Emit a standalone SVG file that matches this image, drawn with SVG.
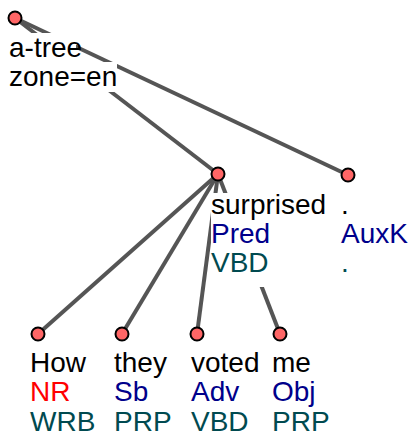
<svg xmlns="http://www.w3.org/2000/svg" width="414" height="444" viewBox="0 0 414 444">
<style>
text{font-family:"Liberation Sans",Arial,sans-serif;font-size:28px}
.f{fill:#000}
.r{fill:#ff0000}
.b{fill:#00008b}
.t{fill:#004a50}
.bg{fill:#fff}
.e{stroke:#555;stroke-width:4;fill:none;stroke-linecap:butt}
.n{fill:#ff6666;stroke:#000;stroke-width:2}
</style>
<rect width="414" height="444" fill="#fff"/>
<g id="edges">
<line class="e" x1="15" y1="18" x2="218" y2="174"/>
<line class="e" x1="15" y1="18" x2="348" y2="175"/>
<line class="e" x1="218" y1="174" x2="38" y2="334"/>
<line class="e" x1="218" y1="174" x2="122" y2="334"/>
<line class="e" x1="218" y1="174" x2="197" y2="334"/>
<line class="e" x1="218" y1="174" x2="280" y2="334"/>
</g>
<g id="root">
<rect class="bg" x="8" y="33" width="68" height="29"/>
<rect class="bg" x="8" y="62" width="109" height="30"/>
<circle class="n" cx="15" cy="18" r="6.5"/>
<text x="9" y="57" class="f">a-tree</text>
<text x="9" y="86" class="f">zone=en</text>
</g>
<g id="n-surprised">
<rect class="bg" x="211" y="193" width="120" height="94"/>
<circle class="n" cx="218" cy="174" r="6.5"/>
<text x="211" y="214" class="f">surprised</text>
<text x="211" y="243" class="b">Pred</text>
<text x="211" y="272" class="t">VBD</text>
</g>
<g id="n-period">
<circle class="n" cx="348" cy="175" r="6.5"/>
<text x="341" y="214" class="f">.</text>
<text x="341" y="243" class="b">AuxK</text>
<text x="341" y="272" class="t">.</text>
</g>
<g id="n-how">
<circle class="n" cx="38" cy="334" r="6.5"/>
<text x="30" y="372" class="f">How</text>
<text x="30" y="401" class="r">NR</text>
<text x="30" y="431" class="t">WRB</text>
</g>
<g id="n-they">
<circle class="n" cx="122" cy="334" r="6.5"/>
<text x="114" y="372" class="f">they</text>
<text x="114" y="401" class="b">Sb</text>
<text x="114" y="431" class="t">PRP</text>
</g>
<g id="n-voted">
<circle class="n" cx="197" cy="334" r="6.5"/>
<text x="191" y="372" class="f">voted</text>
<text x="191" y="401" class="b">Adv</text>
<text x="191" y="431" class="t">VBD</text>
</g>
<g id="n-me">
<circle class="n" cx="280" cy="334" r="6.5"/>
<text x="272" y="372" class="f">me</text>
<text x="272" y="401" class="b">Obj</text>
<text x="272" y="431" class="t">PRP</text>
</g>
</svg>
